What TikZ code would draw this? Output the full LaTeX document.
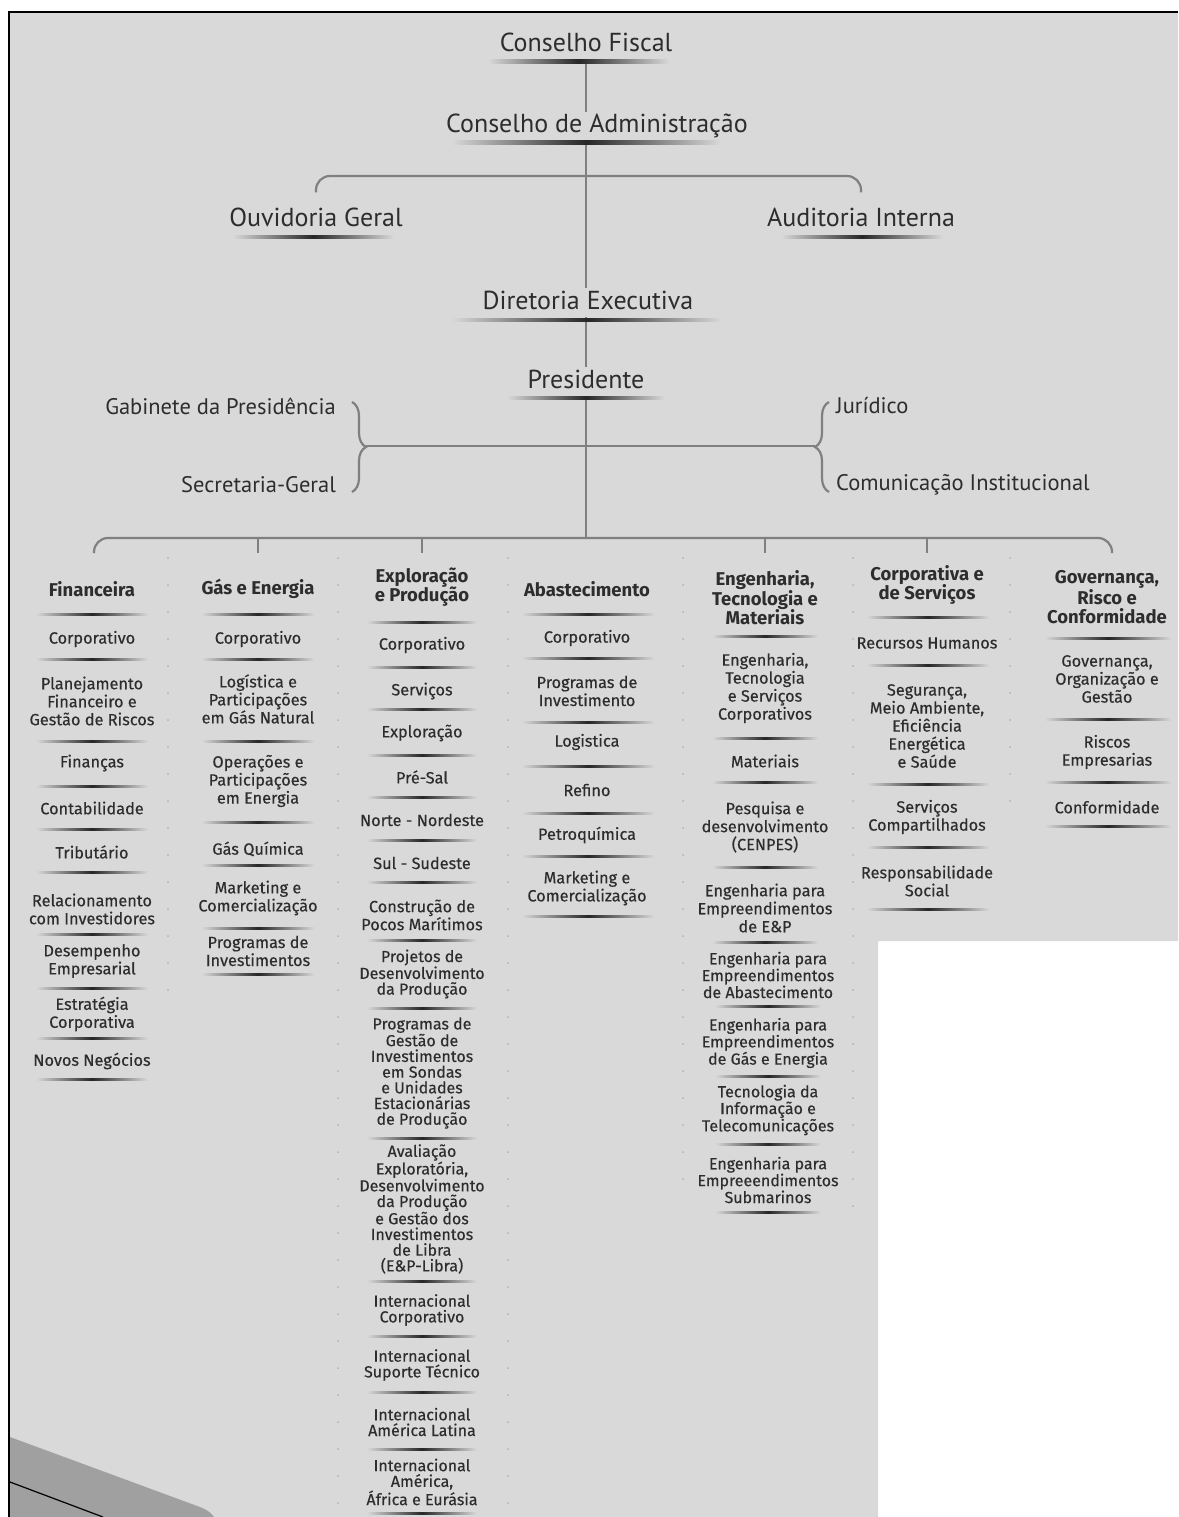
\documentclass[tikz,border=0pt]{standalone}
\usepackage{fontspec}
\setmainfont{Fira Sans}
\newfontfamily\topfont{PT Sans}
\newfontfamily\itemfont{Fira Sans}[FakeBold=0.35]
\usetikzlibrary{
    calc,
    decorations.pathreplacing
}

\definecolor{bg}{RGB}{217,217,217}
\definecolor{ink}{RGB}{45,45,45}
\definecolor{linecol}{RGB}{128,128,128}
\definecolor{wedgecol}{RGB}{160,160,160}
\definecolor{dotcol}{RGB}{178,178,178}

\tikzset{
  conn/.style={draw=linecol, line width=2.2pt},
  brc/.style={conn, decorate, decoration={brace, amplitude=14pt}},
  topunit/.style={font=\topfont\fontsize{26}{30}\selectfont, text=ink,
    text height=18pt, text depth=5pt, inner xsep=2pt, inner ysep=3pt},
  sideunit/.style={font=\topfont\fontsize{22.5}{26}\selectfont, text=ink,
    inner sep=2pt},
  head/.style={font=\bfseries\fontsize{18.5}{19.5}\selectfont, text=ink,
    align=center, inner sep=0pt},
  item/.style={font=\itemfont\fontsize{16.3}{18}\selectfont, text=ink,
    align=center, inner sep=0pt},
  tight/.style={item, font=\itemfont\fontsize{16}{15.7}\selectfont},
  dots/.style={dotcol, line width=2pt, line cap=round,
    dash pattern=on 0pt off 27pt}
}

% shaded bar under a unit: x, y, width, thickness
\newcommand{\ulbar}[4]{%
  \shade[left color=bg, right color=bg, middle color=black!85]
    (#1-#3/2,#2) rectangle (#1+#3/2,#2+#4);}

\begin{document}
\begin{tikzpicture}[x=1pt, y=-1pt]

  \useasboundingbox (0,0) rectangle (1178,1517);

  % paper
  \fill[white] (0,0) rectangle (1178,1517);
  \fill[bg] (10,12) -- (1178,12) -- (1178,941) -- (878,941)
    -- (878,1517) -- (10,1517) -- cycle;
  \fill[wedgecol] (10,1437) -- (200,1507)
    .. controls (208,1510) and (212,1514) .. (214,1517) -- (10,1517) -- cycle;
  \draw[black, line width=1.2pt] (10,1482) -- (103,1517);
  \draw[black, line width=2pt] (9,1517) -- (9,12) -- (1178,12);

  % column dots
  \foreach \x/\e in {168/995, 338/1517, 508/1517, 683/1200, 853/1210, 1010/810}
    \draw[dots] (\x,558) -- (\x,\e);

  % top units
  \node[topunit] (fiscal) at (586,45.5) {Conselho Fiscal};
  \node[topunit] (admin) at (597,126.5) {Conselho de Administração};
  \node[topunit] (ouv) at (316,220) {Ouvidoria Geral};
  \node[topunit] (aud) at (861,220) {Auditoria Interna};
  \node[topunit] (dir) at (588,302.5) {Diretoria Executiva};
  \node[topunit] (pres) at (586,382) {Presidente};

  \node[sideunit, anchor=east] (gab) at (338,406) {Gabinete da Presidência};
  \node[sideunit, anchor=east] (sec) at (338,485) {Secretaria-Geral};
  \node[sideunit, anchor=west] (jur) at (834,406) {Jurídico};
  \node[sideunit, anchor=west] (com) at (834,485) {Comunicação Institucional};

  \coordinate (topbar) at (586,176);
  \coordinate (lb) at (366,446);
  \coordinate (rb) at (815,446);
  \coordinate (bar) at (586,538);
  \coordinate (barl) at (94,553);
  \coordinate (barr) at (1112,553);

  % trunk
  \draw[conn] (fiscal.south) -- (admin.north -| fiscal.south);
  \draw[conn] (admin.south -| fiscal.south) -- (dir.north -| fiscal.south);
  \draw[conn, rounded corners=14pt] ([yshift=13pt]ouv.north) |- (topbar)
    -| ([yshift=13pt]aud.north);
  \draw[conn] (dir.south -| pres.south) -- (pres.north);
  \draw[conn] (pres.south) -- (bar);
  \draw[brc] ([xshift=14pt,yshift=4pt]gab.east) -- ([xshift=14pt,yshift=-7pt]sec.east);
  \draw[brc] ([xshift=-5pt,yshift=-7pt]com.west) -- ([xshift=-5pt,yshift=4pt]jur.west);
  \draw[conn] (lb) -- (rb);
  \draw[conn, rounded corners=14pt] (barl) |- (bar) -| (barr);

  \ulbar{578.5}{60}{181}{3.5}
  \ulbar{586}{141}{270}{3.5}
  \ulbar{313.5}{235}{161}{3.5}
  \ulbar{862}{235}{162}{3.5}
  \ulbar{587}{318}{270}{3.5}
  \ulbar{586}{396}{158}{3.5}

  % Financeira
  \node[head] (fin) at (92,589) {Financeira};
  \ulbar{92}{613}{112}{2.6}
  \foreach \t/\y/\u [count=\i] in {
    Corporativo/639/658,
    {Planejamento\\Financeiro e\\Gestão de Riscos}/701/740,
    Finanças/763/785,
    Contabilidade/808/828,
    Tributário/852/871,
    {Relacionamento\\com Investidores}/909/933,
    {Desempenho\\Empresarial}/961/987,
    {Estratégia\\Corporativa}/1014/1037,
    Novos Negócios/1061/1078}{
    \node[item] (fin\i) at (92,\y) {\t};
    \ulbar{92}{\u}{112}{2.6}
  }

  % Gas e Energia
  \node[head] (gas) at (258,589) {Gás e Energia};
  \ulbar{258}{613}{113}{2.6}
  \foreach \t/\y/\u [count=\i] in {
    Corporativo/639/658,
    {Logística e\\Participações\\em Gás Natural}/699/740,
    {Operações e\\Participações\\em Energia}/781/821,
    Gás Química/849/864,
    {Marketing e\\Comercialização}/898/927,
    {Programas de\\Investimentos}/951/973}{
    \node[item] (gas\i) at (258,\y) {\t};
    \ulbar{258}{\u}{113}{2.6}
  }

  % Exploracao e Producao
  \node[head] (ep) at (422,587) {Exploração\\e Produção};
  \ulbar{422}{621}{110}{2.6}
  \foreach \t/\y/\u [count=\i] in {
    Corporativo/645/666,
    Serviços/691/708,
    Exploração/733/754,
    Pré-Sal/777/796,
    Norte - Nordeste/820/839,
    Sul - Sudeste/863/881,
    {Construção de\\Pocos Marítimos}/915/939}{
    \node[item] (ep\i) at (422,\y) {\t};
    \ulbar{422}{\u}{110}{2.6}
  }
  \foreach \t/\y/\u [count=\i] in {
    {Projetos de\\Desenvolvimento\\da Produção}/974/1007,
    {Programas de\\Gestão de\\Investimentos\\em Sondas\\e Unidades\\Estacionárias\\de Produção}/1073/1137,
    {Avaliação\\Exploratória,\\Desenvolvimento\\da Produção\\e Gestão dos\\Investimentos\\de Libra\\(E\&P-Libra)}/1209/1280,
    {Internacional\\Corporativo}/1310/1335,
    {Internacional\\Suporte Técnico}/1365/1391,
    {Internacional\\América Latina}/1422/1448,
    {Internacional\\América,\\África e Eurásia}/1482/1512}{
    \node[tight] (epx\i) at (422,\y) {\t};
    \ulbar{422}{\u}{110}{2.6}
  }

  % Abastecimento
  \node[head] (abs) at (587,589) {Abastecimento};
  \ulbar{588}{613}{133}{2.6}
  \foreach \t/\y/\u [count=\i] in {
    Corporativo/638/657,
    {Programas de\\Investimento}/691/721,
    Logistica/742/765,
    Refino/790/812,
    Petroquímica/835/855,
    {Marketing e\\Comercialização}/888/915}{
    \node[item] (abs\i) at (587,\y) {\t};
    \ulbar{588}{\u}{133}{2.6}
  }

  % Engenharia, Tecnologia e Materiais
  \node[head] (etm) at (765,598) {Engenharia,\\Tecnologia e\\Materiais};
  \ulbar{765}{635}{106}{2.6}
  \foreach \t/\y/\u [count=\i] in {
    {Engenharia,\\Tecnologia\\e Serviços\\Corporativos}/688/737,
    Materiais/761/781,
    {Pesquisa e\\desenvolvimento\\(CENPES)}/827/866,
    {Engenharia para\\Empreendimentos\\de E\&P}/908/941}{
    \node[item] (etm\i) at (765,\y) {\t};
    \ulbar{765}{\u}{106}{2.6}
  }
  \foreach \t/\y/\u [count=\i] in {
    {Engenharia para\\Empreendimentos\\de Abastecimento}/975/1005,
    {Engenharia para\\Empreendimentos\\de Gás e Energia}/1043/1075,
    {Tecnologia da\\Informação e\\Telecomunicações}/1110/1143,
    {Engenharia para\\Empreeendimentos\\Submarinos}/1180/1211}{
    \node[tight] (etmx\i) at (768,\y) {\t};
    \ulbar{768}{\u}{106}{2.6}
  }

  % Corporativa e de Servicos
  \node[head] (cs) at (927,585) {Corporativa e\\de Serviços};
  \ulbar{928}{616}{123}{2.6}
  \foreach \t/\y/\u [count=\i] in {
    Recursos Humanos/643/664,
    {Segurança,\\Meio Ambiente,\\Eficiência\\Energética\\e Saúde}/726/783,
    {Serviços\\Compartilhados}/817/846,
    {Responsabilidade\\Social}/881/908}{
    \node[item] (cs\i) at (927,\y) {\t};
    \ulbar{928}{\u}{123}{2.6}
  }

  % Governanca, Risco e Conformidade
  \node[head] (grc) at (1107,597) {Governança,\\Risco e\\Conformidade};
  \ulbar{1108}{637}{127}{2.6}
  \foreach \t/\y/\u [count=\i] in {
    {Governança,\\Organização e\\Gestão}/679/718,
    {Riscos\\Empresarias}/752/781,
    Conformidade/807/825}{
    \node[item] (grc\i) at (1107,\y) {\t};
    \ulbar{1108}{\u}{127}{2.6}
  }

  \foreach \c in {gas,ep,etm,cs}
    \draw[conn] (\c |- bar) -- ++(0,15);

\end{tikzpicture}
\end{document}
